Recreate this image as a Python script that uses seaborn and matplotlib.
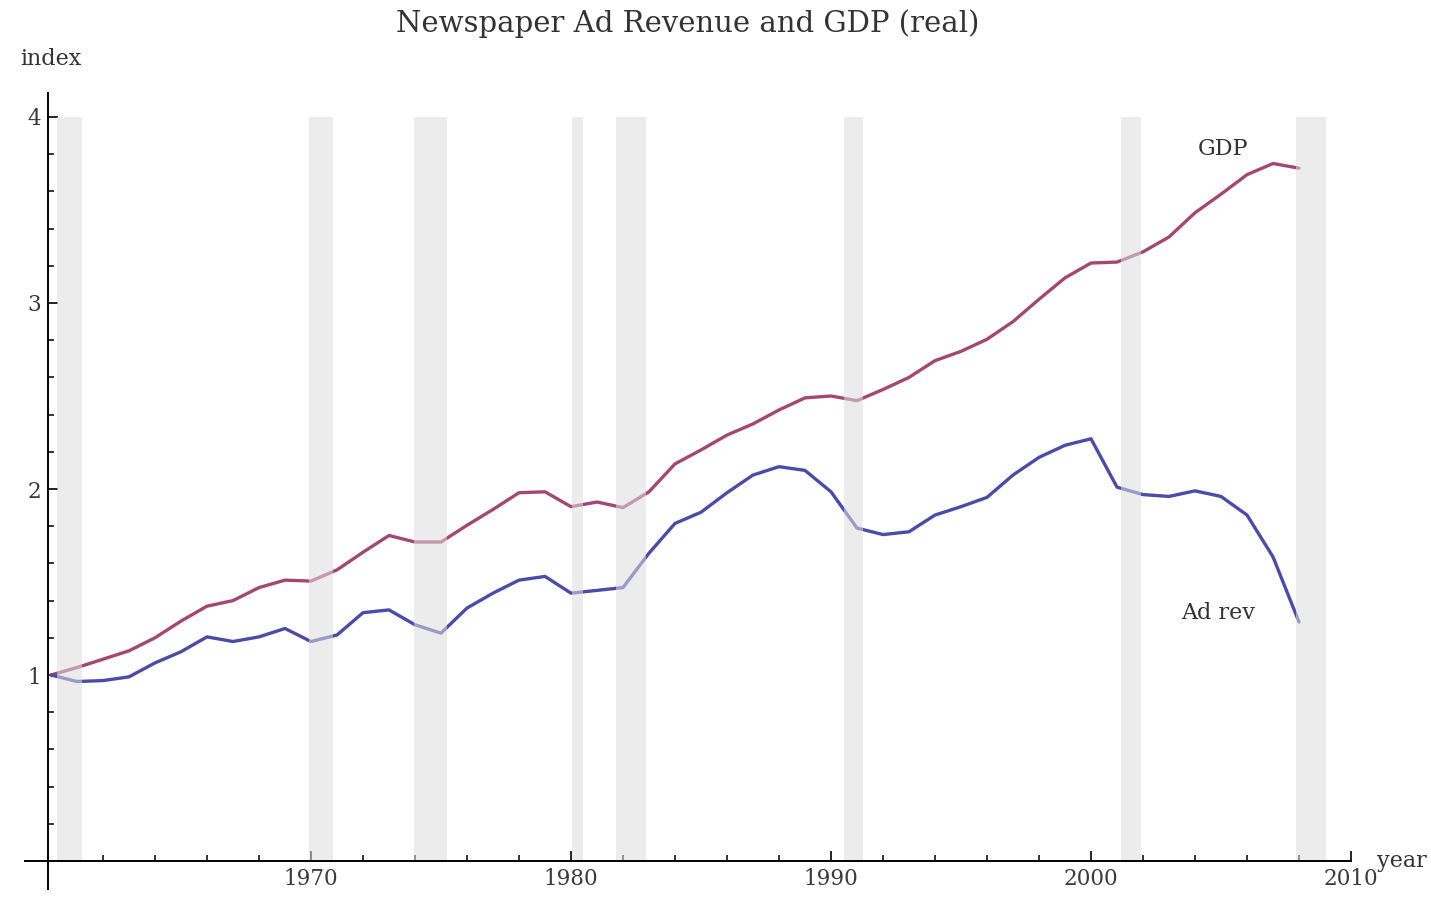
import matplotlib
matplotlib.use("Agg")
import numpy as np
import pandas as pd
import matplotlib.pyplot as plt
import seaborn as sns
from matplotlib.ticker import FixedLocator

# datos (indice, 1960 = 1)
years = list(range(1960, 2009))
gdp = [1.00, 1.04, 1.085, 1.13, 1.20, 1.29, 1.37, 1.40, 1.47, 1.51,
       1.505, 1.565, 1.66, 1.75, 1.715, 1.715, 1.805, 1.89, 1.98, 1.985,
       1.905, 1.93, 1.90, 1.985, 2.135, 2.21, 2.29, 2.35, 2.425, 2.49,
       2.50, 2.475, 2.535, 2.60, 2.69, 2.74, 2.805, 2.90, 3.02, 3.135,
       3.215, 3.22, 3.275, 3.355, 3.485, 3.585, 3.69, 3.75, 3.725]
ad_rev = [1.00, 0.965, 0.97, 0.99, 1.065, 1.125, 1.205, 1.18, 1.205, 1.25,
          1.18, 1.215, 1.335, 1.35, 1.27, 1.225, 1.36, 1.44, 1.51, 1.53,
          1.44, 1.455, 1.47, 1.655, 1.815, 1.875, 1.98, 2.075, 2.12, 2.10,
          1.985, 1.79, 1.755, 1.77, 1.86, 1.905, 1.955, 2.075, 2.17, 2.235,
          2.27, 2.01, 1.97, 1.96, 1.99, 1.96, 1.86, 1.635, 1.285]
recessions = [(1960.23, 1961.19), (1969.92, 1970.85), (1973.96, 1975.23),
              (1980.04, 1980.46), (1981.73, 1982.88), (1990.5, 1991.23),
              (2001.15, 2001.92), (2007.88, 2009.04)]
x_major = [1970, 1980, 1990, 2000, 2010]
x_minor = [y for y in range(1962, 2010, 2) if y % 10 != 0]
y_major = [1, 2, 3, 4]
y_minor = [round(v * 0.2, 1) for v in range(1, 21) if v % 5 != 0]

df = pd.DataFrame({"year": years, "GDP": gdp, "Ad rev": ad_rev})

sns.set_style("white")
plt.rcParams["font.family"] = ["DejaVu Serif", "Liberation Serif"]

W, H = 1431, 897
fig = plt.figure(figsize=(W / 100, H / 100), dpi=100)

# posicion de los ejes para que 1960 -> px 51 y 0 -> px 861
x0px, sx = 51, 26
y0px, sy = 861, 186
xlim = (1958.5, 2012.0)
ylim = (-0.18, 4.35)
left = (x0px + sx * (xlim[0] - 1960)) / W
width = sx * (xlim[1] - xlim[0]) / W
bottom = (H - (y0px - sy * ylim[0])) / H
height = sy * (ylim[1] - ylim[0]) / H
ax = fig.add_axes([left, bottom, width, height])

sns.lineplot(data=df, x="year", y="GDP", ax=ax, color="#a3486f", lw=2.4, zorder=2)
sns.lineplot(data=df, x="year", y="Ad rev", ax=ax, color="#4a4ca8", lw=2.4, zorder=2)

# bandas de recesion, encima de las lineas
for a, b in recessions:
    ax.fill_between([a, b], 0, 4, color="#dedede", alpha=0.55, lw=0, zorder=3)

ax.set_xlim(*xlim)
ax.set_ylim(*ylim)
ax.set_xlabel("")
ax.set_ylabel("")

for s in ["top", "right"]:
    ax.spines[s].set_visible(False)
ax.spines["left"].set_position(("data", 1959.88))
ax.spines["bottom"].set_position(("data", 0))
ax.spines["left"].set_bounds(-0.15, 4.13)
ax.spines["bottom"].set_bounds(1959.0, 2010)
for s in ["left", "bottom"]:
    ax.spines[s].set_linewidth(1.4)
    ax.spines[s].set_color("black")
    ax.spines[s].set_zorder(4)

ax.xaxis.set_major_locator(FixedLocator(x_major))
ax.xaxis.set_minor_locator(FixedLocator(x_minor))
ax.yaxis.set_major_locator(FixedLocator(y_major))
ax.yaxis.set_minor_locator(FixedLocator(y_minor))
ax.set_xticklabels([str(v) for v in x_major])
ax.set_yticklabels([str(v) for v in y_major])
ax.tick_params(which="major", direction="in", length=7, width=1.2, colors="black",
               labelsize=15.5, labelcolor="#3a3a3a")
ax.tick_params(which="minor", direction="in", length=4.5, width=1.1, colors="black")
ax.tick_params(axis="x", which="both", bottom=True, pad=5)
ax.tick_params(axis="y", which="both", left=True, pad=5)

ax.text(2005.08, 3.83, "GDP", ha="center", va="center", fontsize=16, color="#333333")
ax.text(2004.88, 1.333, "Ad rev", ha="center", va="center", fontsize=16, color="#333333")
ax.text(1960.0, 4.31, "index", ha="center", va="center", fontsize=16, color="#333333")
ax.text(2011.95, 0.0, "year", ha="center", va="center", fontsize=16, color="#333333")

fig.text(688 / W, 1 - 24 / H, "Newspaper Ad Revenue and GDP (real)",
         ha="center", va="center", fontsize=21, color="#333333")

fig.savefig("out.png", dpi=100)
plt.close(fig)
